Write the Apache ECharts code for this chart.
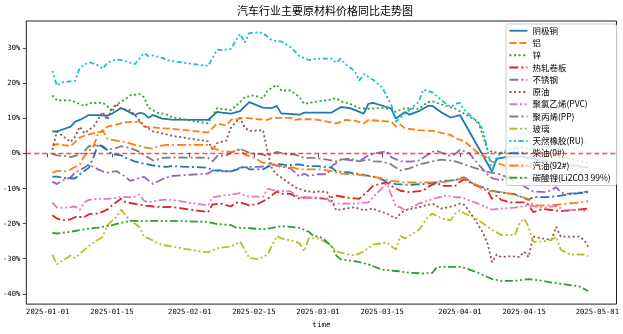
<!DOCTYPE html>
<html>
<head>
<meta charset="utf-8">
<script src="https://cdn.jsdelivr.net/npm/echarts@6/dist/echarts.min.js"></script>
<style>
  html, body { margin: 0; padding: 0; background: #fff; }
  #chart { width: 623px; height: 334px; }
</style>
</head>
<body>
<div id="chart"></div>
<script>
// Year-on-year change (%) of key automotive raw materials, 2025
const seriesNames = ['阴极铜', '铝', '锌', '热轧卷板', '不锈钢', '原油', '聚氯乙烯(PVC)', '聚丙烯(PP)', '玻璃', '天然橡胶(RU)', '柴油(0#)', '汽油(92#)', '碳酸锂(Li2CO3 99%)'];

const copper = [['01-02',6.3],['01-03',6.3],['01-06',7.7],['01-07',9.1],['01-08',9.6],['01-10',11.0],['01-12',11.0],['01-14',10.8],['01-15',11.4],['01-17',13.0],['01-18',12.4],['01-20',11.0],['01-21',11.6],['01-22',11.4],['01-23',10.2],['01-24',11.0],['01-26',10.0],['01-28',9.7],['02-05',9.6],['02-07',11.9],['02-08',11.7],['02-10',11.4],['02-12',12.1],['02-14',14.7],['02-16',13.6],['02-17',13.1],['02-19',13.0],['02-20',13.6],['02-21',11.4],['02-22',11.4],['02-25',11.1],['02-26',11.7],['03-02',11.7],['03-04',11.7],['03-06',13.3],['03-08',13.0],['03-11',11.4],['03-12',14.2],['03-13',14.5],['03-16',13.3],['03-17',12.8],['03-18',10.0],['03-20',11.9],['03-21',11.1],['03-23',12.1],['03-25',13.6],['03-26',13.6],['03-28',11.7],['03-30',10.3],['04-01',11.0],['04-08',-5.1],['04-09',-1.5],['04-11',-1.0],['04-14',-0.8],['04-17',-1.5],['04-21',-2.5],['04-24',-3.0],['04-29',-4.0]];

const aluminium = [['01-02',2.3],['01-03',2.7],['01-06',2.1],['01-08',4.6],['01-10',5.5],['01-12',6.1],['01-13',6.3],['01-14',7.7],['01-17',8.6],['01-18',8.9],['01-20',9.1],['01-21',9.1],['01-22',7.7],['01-24',7.5],['01-26',7.2],['01-28',7.1],['02-05',6.0],['02-07',8.6],['02-09',8.0],['02-10',9.6],['02-12',10.0],['02-13',10.2],['02-16',9.8],['02-18',9.6],['02-19',10.2],['02-21',10.2],['02-23',10.2],['02-24',9.6],['02-25',9.8],['02-27',9.8],['03-01',9.6],['03-03',9.1],['03-05',8.6],['03-07',9.6],['03-09',9.4],['03-11',8.6],['03-12',9.6],['03-15',9.3],['03-17',9.1],['03-18',7.7],['03-19',8.3],['03-20',7.2],['03-23',6.7],['03-26',6.5],['03-30',5.3],['03-31',4.4],['04-02',3.5],['04-03',2.3],['04-05',0.2],['04-07',-1.2],['04-08',-2.3],['04-10',-3.1],['04-11',-3.6],['04-15',-3.8],['04-18',-3.5],['04-22',-4.0],['04-25',-3.7],['04-29',-3.8]];

const zinc = [['01-02',16.6],['01-03',15.2],['01-04',15.2],['01-06',15.2],['01-07',14.7],['01-09',13.6],['01-10',14.4],['01-13',14.5],['01-14',13.6],['01-15',11.9],['01-16',14.0],['01-18',15.6],['01-19',16.6],['01-21',17.0],['01-22',16.1],['01-23',13.0],['01-24',12.4],['01-25',11.7],['01-27',11.1],['01-28',10.4],['02-05',8.6],['02-07',13.0],['02-10',12.4],['02-12',14.7],['02-13',16.1],['02-15',16.6],['02-17',15.8],['02-18',18.0],['02-20',19.6],['02-21',18.0],['02-23',18.0],['02-25',16.1],['02-26',14.2],['02-28',14.7],['03-01',14.9],['03-03',15.2],['03-05',15.8],['03-06',14.9],['03-08',14.2],['03-10',13.0],['03-12',12.8],['03-15',13.0],['03-17',12.8],['03-18',11.9],['03-20',13.0],['03-23',12.8],['03-25',14.7],['03-26',14.9],['03-29',13.6],['03-31',12.8],['04-03',10.6],['04-05',9.1],['04-07',1.1],['04-08',0.5],['04-10',0.2],['04-14',0.6],['04-17',0.0],['04-22',-0.8],['04-25',-1.5],['04-29',-2.6]];

const hotRolledCoil = [['01-02',-17.6],['01-03',-18.5],['01-04',-19.0],['01-06',-18.8],['01-07',-18.1],['01-09',-18.1],['01-10',-17.3],['01-12',-17.1],['01-14',-16.0],['01-15',-14.8],['01-17',-12.9],['01-18',-13.9],['01-19',-14.1],['01-22',-14.8],['01-24',-15.1],['01-27',-15.3],['01-28',-15.2],['02-05',-16.7],['02-06',-14.5],['02-08',-14.3],['02-10',-15.1],['02-11',-14.1],['02-12',-13.9],['02-14',-14.8],['02-16',-14.3],['02-18',-12.9],['02-20',-10.8],['02-21',-11.5],['02-23',-11.5],['02-25',-12.9],['02-26',-12.5],['02-28',-12.7],['03-03',-12.9],['03-05',-12.0],['03-07',-12.5],['03-10',-12.9],['03-12',-10.6],['03-13',-9.2],['03-16',-8.2],['03-17',-9.2],['03-19',-10.6],['03-21',-11.0],['03-24',-10.6],['03-25',-9.5],['03-27',-8.2],['03-28',-9.2],['03-31',-9.2],['04-01',-8.0],['04-02',-7.4],['04-03',-8.1],['04-05',-9.4],['04-07',-10.6],['04-08',-12.9],['04-09',-12.0],['04-10',-13.2],['04-12',-13.9],['04-15',-13.9],['04-16',-14.6],['04-17',-16.7],['04-19',-15.8],['04-21',-16.1],['04-23',-16.4],['04-26',-16.1],['04-29',-15.7]];

const stainless = [['01-02',-8.0],['01-03',-8.7],['01-04',-7.8],['01-06',-6.8],['01-07',-5.4],['01-09',-4.0],['01-10',-3.1],['01-12',-4.5],['01-13',-5.1],['01-14',-5.4],['01-16',-5.0],['01-18',-6.6],['01-19',-7.8],['01-22',-6.6],['01-24',-8.7],['01-26',-7.3],['01-28',-6.4],['02-05',-5.7],['02-06',-4.8],['02-08',-5.1],['02-10',-5.1],['02-12',-4.0],['02-14',-3.8],['02-16',-3.8],['02-18',-3.6],['02-19',-3.1],['02-21',-3.8],['02-23',-4.2],['02-25',-6.6],['02-26',-5.7],['02-27',-6.4],['03-01',-5.9],['03-03',-5.9],['03-04',-3.6],['03-06',-1.7],['03-07',-1.7],['03-10',-2.2],['03-12',-0.5],['03-14',0.2],['03-16',0.7],['03-17',-1.0],['03-19',-2.2],['03-21',-2.3],['03-23',-2.0],['03-26',0.5],['03-27',0.8],['03-28',0.2],['03-30',-0.7],['03-31',-0.1],['04-01',1.1],['04-03',0.2],['04-05',-3.1],['04-07',-5.9],['04-08',-7.0],['04-10',-7.7],['04-11',-6.8],['04-12',-7.2],['04-14',-8.5],['04-16',-10.1],['04-17',-10.8],['04-20',-11.0],['04-22',-9.6],['04-23',-11.0],['04-24',-11.5],['04-26',-11.3],['04-29',-10.8]];

const crudeOil = [['01-02',1.1],['01-03',6.3],['01-04',5.3],['01-06',3.3],['01-07',4.9],['01-08',7.7],['01-09',5.8],['01-11',7.7],['01-13',11.9],['01-14',9.6],['01-15',12.8],['01-16',14.2],['01-17',12.8],['01-19',12.4],['01-20',11.0],['01-22',8.0],['01-24',6.3],['01-26',5.8],['01-28',5.1],['02-05',3.5],['02-06',1.1],['02-07',3.0],['02-09',3.7],['02-10',7.4],['02-12',10.3],['02-13',7.4],['02-14',6.5],['02-17',6.7],['02-18',0.5],['02-19',-4.5],['02-20',-5.9],['02-22',-7.8],['02-24',-9.6],['02-26',-10.6],['02-28',-11.0],['03-01',-10.8],['03-03',-11.0],['03-04',-13.4],['03-05',-16.2],['03-07',-15.7],['03-09',-15.3],['03-11',-16.2],['03-13',-15.7],['03-15',-16.7],['03-16',-17.1],['03-18',-18.5],['03-19',-17.1],['03-20',-16.2],['03-23',-15.3],['03-26',-14.3],['03-28',-15.7],['03-31',-14.8],['04-01',-14.3],['04-02',-14.6],['04-04',-18.3],['04-06',-22.5],['04-07',-25.6],['04-08',-31.0],['04-09',-28.8],['04-10',-29.5],['04-12',-29.3],['04-14',-29.5],['04-15',-28.0],['04-16',-29.5],['04-17',-23.7],['04-19',-24.2],['04-21',-24.6],['04-22',-20.9],['04-23',-23.7],['04-27',-23.7],['04-28',-24.5],['04-29',-26.5]];

const pvc = [['01-02',-13.9],['01-03',-15.4],['01-05',-15.4],['01-06',-15.3],['01-07',-15.1],['01-08',-16.0],['01-09',-13.9],['01-10',-13.2],['01-12',-12.9],['01-14',-12.9],['01-16',-12.6],['01-17',-12.3],['01-19',-12.5],['01-20',-12.3],['01-21',-11.7],['01-22',-13.4],['01-23',-13.9],['01-25',-13.4],['01-26',-13.2],['01-28',-13.2],['02-05',-14.8],['02-06',-12.5],['02-08',-12.0],['02-10',-11.7],['02-12',-11.3],['02-13',-12.0],['02-14',-12.3],['02-17',-12.3],['02-18',-10.1],['02-20',-10.6],['02-23',-10.8],['02-25',-12.5],['02-27',-12.5],['03-01',-12.5],['03-03',-12.9],['03-04',-14.2],['03-06',-14.3],['03-09',-14.3],['03-12',-13.9],['03-13',-12.5],['03-16',-8.5],['03-18',-15.1],['03-19',-15.3],['03-20',-16.2],['03-23',-14.3],['03-25',-13.4],['03-27',-12.6],['03-29',-12.0],['03-31',-12.5],['04-01',-12.4],['04-03',-13.3],['04-05',-14.3],['04-08',-16.0],['04-10',-15.7],['04-13',-15.4],['04-16',-14.8],['04-19',-15.4],['04-22',-15.0],['04-24',-16.2],['04-26',-16.0],['04-29',-16.4]];

const polypropylene = [['01-02',-0.1],['01-03',-0.5],['01-05',-0.7],['01-06',-1.0],['01-08',-0.3],['01-09',0.7],['01-10',2.1],['01-12',2.5],['01-13',1.8],['01-14',1.1],['01-16',1.6],['01-17',2.1],['01-19',1.6],['01-21',0.5],['01-22',-0.3],['01-24',-2.0],['01-25',-1.7],['01-26',-1.2],['01-28',-1.1],['02-05',-1.2],['02-06',-2.2],['02-07',-0.7],['02-09',-0.5],['02-10',0.2],['02-12',1.4],['02-13',0.8],['02-14',0.2],['02-17',-0.3],['02-18',-0.7],['02-20',0.5],['02-22',-0.1],['02-24',-0.3],['02-26',-1.2],['02-28',-1.2],['03-03',-1.7],['03-05',-2.2],['03-06',-1.7],['03-08',-1.4],['03-10',-2.2],['03-12',-1.7],['03-13',-2.2],['03-15',-2.3],['03-17',-3.1],['03-19',-4.8],['03-21',-4.2],['03-23',-3.1],['03-26',-2.2],['03-28',-1.7],['03-30',-2.0],['03-31',-2.2],['04-02',-3.1],['04-04',-4.0],['04-07',-5.2],['04-10',-6.0],['04-11',-6.6],['04-15',-7.0],['04-19',-7.3],['04-23',-7.0],['04-26',-7.5],['04-29',-7.8]];

const glass = [['01-02',-28.8],['01-03',-31.6],['01-04',-30.7],['01-06',-29.1],['01-07',-29.8],['01-08',-28.6],['01-10',-26.3],['01-12',-24.6],['01-13',-23.7],['01-14',-20.4],['01-16',-18.1],['01-17',-16.0],['01-18',-17.6],['01-19',-19.0],['01-21',-20.9],['01-22',-23.7],['01-24',-24.8],['01-25',-25.6],['01-27',-26.3],['01-28',-26.5],['02-01',-27.4],['02-05',-28.2],['02-07',-27.0],['02-10',-26.5],['02-12',-25.1],['02-13',-27.4],['02-14',-29.8],['02-16',-30.1],['02-18',-28.8],['02-20',-23.5],['02-21',-24.2],['02-24',-25.1],['02-25',-25.6],['02-26',-27.9],['02-27',-24.2],['03-01',-24.2],['03-02',-24.8],['03-03',-25.5],['03-04',-26.5],['03-05',-27.9],['03-07',-28.6],['03-09',-29.1],['03-11',-27.9],['03-13',-26.0],['03-16',-25.4],['03-18',-27.4],['03-19',-23.5],['03-20',-24.2],['03-23',-21.8],['03-25',-18.1],['03-26',-17.1],['03-28',-18.5],['03-30',-19.0],['03-31',-17.1],['04-01',-16.2],['04-02',-17.1],['04-04',-18.1],['04-06',-19.9],['04-08',-21.8],['04-10',-23.2],['04-13',-23.2],['04-14',-19.9],['04-15',-18.5],['04-16',-20.9],['04-17',-25.1],['04-19',-25.1],['04-21',-24.6],['04-22',-23.7],['04-23',-27.4],['04-25',-28.8],['04-28',-28.8],['04-29',-29.3]];

const naturalRubber = [['01-02',23.6],['01-03',19.4],['01-04',20.3],['01-07',20.8],['01-08',24.5],['01-10',26.1],['01-12',25.2],['01-13',24.2],['01-14',25.9],['01-16',26.9],['01-18',26.4],['01-20',25.5],['01-22',28.7],['01-23',27.8],['01-24',28.0],['01-26',27.3],['01-27',26.7],['01-28',26.4],['02-05',25.0],['02-07',29.7],['02-08',29.5],['02-10',29.9],['02-12',34.2],['02-13',31.7],['02-14',34.4],['02-16',34.6],['02-17',34.4],['02-19',32.3],['02-21',32.0],['02-23',30.4],['02-25',27.8],['02-27',26.7],['03-01',27.1],['03-04',27.1],['03-05',25.9],['03-06',27.1],['03-07',25.5],['03-09',23.6],['03-10',20.8],['03-11',22.7],['03-13',21.1],['03-15',18.9],['03-17',14.0],['03-18',9.1],['03-20',11.4],['03-23',14.7],['03-24',18.3],['03-26',17.5],['03-28',15.2],['03-30',13.3],['03-31',14.2],['04-01',14.5],['04-02',12.4],['04-04',10.0],['04-06',7.0],['04-07',1.1],['04-08',-5.2],['04-09',-1.0],['04-10',0.2],['04-11',0.8],['04-14',1.8],['04-17',1.2],['04-20',2.0],['04-23',2.5],['04-26',3.0],['04-29',3.3]];

const diesel = [['01-02',-6.6],['01-03',-6.6],['01-05',-7.0],['01-07',-7.1],['01-08',-5.9],['01-10',-4.0],['01-11',-1.0],['01-12',2.7],['01-13',2.1],['01-15',-0.1],['01-17',-0.5],['01-18',-1.2],['01-20',-2.2],['01-22',-2.9],['01-25',-3.6],['01-27',-3.8],['01-28',-3.6],['02-05',-4.0],['02-06',-4.8],['02-08',-4.8],['02-10',-5.1],['02-12',-4.2],['02-13',-3.6],['02-14',-4.5],['02-17',-4.5],['02-18',-3.8],['02-20',-2.9],['02-22',-3.3],['02-25',-3.1],['02-27',-3.6],['03-01',-3.6],['03-04',-4.0],['03-05',-5.1],['03-08',-5.4],['03-11',-6.1],['03-14',-6.8],['03-16',-8.0],['03-18',-8.7],['03-21',-8.9],['03-24',-8.7],['03-26',-8.4],['03-28',-7.8],['03-31',-7.6],['04-01',-7.0],['04-02',-6.8],['04-04',-8.7],['04-06',-9.6],['04-08',-10.6],['04-10',-11.1],['04-13',-11.6],['04-16',-13.2],['04-17',-12.4],['04-20',-12.4],['04-22',-12.2],['04-24',-11.8],['04-27',-11.3],['04-29',-11.0]];

const gasoline = [['01-02',-5.4],['01-03',-5.0],['01-05',-5.0],['01-06',-4.5],['01-08',-3.1],['01-09',-0.7],['01-11',2.1],['01-12',5.8],['01-13',6.7],['01-14',4.2],['01-16',3.7],['01-18',3.3],['01-20',2.5],['01-22',1.8],['01-24',1.4],['01-25',2.1],['01-27',2.5],['01-28',2.5],['02-05',2.5],['02-06',1.6],['02-08',0.7],['02-10',0.5],['02-12',1.1],['02-13',-0.3],['02-15',-1.2],['02-17',-2.6],['02-19',-3.1],['02-21',-3.6],['02-23',-3.8],['02-25',-4.5],['02-27',-4.5],['03-01',-4.5],['03-02',-4.5],['03-04',-5.1],['03-06',-5.7],['03-09',-5.9],['03-12',-6.4],['03-14',-6.8],['03-17',-7.8],['03-20',-8.2],['03-23',-8.2],['03-26',-8.2],['03-28',-8.2],['03-30',-7.8],['04-01',-7.3],['04-02',-7.0],['04-05',-9.2],['04-07',-10.6],['04-10',-11.0],['04-12',-11.5],['04-16',-12.9],['04-17',-14.8],['04-20',-14.8],['04-22',-14.6],['04-26',-14.1],['04-29',-13.6]];

const lithiumCarbonate = [['01-02',-22.6],['01-03',-22.8],['01-06',-22.3],['01-09',-21.6],['01-12',-21.1],['01-14',-20.7],['01-17',-19.8],['01-19',-19.2],['01-22',-19.2],['01-25',-19.2],['01-28',-19.2],['02-05',-19.5],['02-07',-20.1],['02-10',-20.4],['02-11',-21.1],['02-14',-21.3],['02-17',-21.6],['02-19',-21.2],['02-21',-20.7],['02-23',-20.9],['02-25',-21.2],['02-27',-22.3],['02-28',-23.5],['03-01',-23.7],['03-02',-24.1],['03-04',-26.5],['03-05',-29.1],['03-06',-30.2],['03-09',-30.7],['03-12',-31.6],['03-15',-33.1],['03-18',-33.5],['03-21',-34.0],['03-24',-34.2],['03-26',-34.0],['03-27',-32.3],['03-30',-32.3],['04-01',-32.3],['04-02',-32.6],['04-05',-34.0],['04-08',-35.8],['04-10',-36.3],['04-13',-36.3],['04-16',-35.8],['04-19',-36.3],['04-21',-36.8],['04-24',-37.3],['04-27',-37.9],['04-29',-39.2]];

const xTickDates = ['01-01', '01-15', '02-01', '02-15', '03-01', '03-15', '04-01', '04-15', '05-01'];
const yTickValues = [-40, -30, -20, -10, 0, 10, 20, 30];

const YEAR = 2025;
const DAY = 86400000;
const toTime = md => {
  const [m, d] = md.split('-').map(Number);
  return new Date(YEAR, m - 1, d).getTime();
};
const pad = n => (n < 10 ? '0' : '') + n;
const fmtDate = t => {
  const d = new Date(t);
  return d.getFullYear() + '-' + pad(d.getMonth() + 1) + '-' + pad(d.getDate());
};

const seriesData = [copper, aluminium, zinc, hotRolledCoil, stainless, crudeOil, pvc, polypropylene, glass, naturalRubber, diesel, gasoline, lithiumCarbonate];

// tab10 palette cycled, with a line pattern per series
const DASHED = [7, 3];
const DOTTED = [2, 2.6];
const DASHDOT = [9, 3, 2, 3];
const DASHDOTDOT = [8, 2.6, 2, 2.6, 2, 2.6];
const looks = [
  { color: '#1f77b4', type: 'solid' },
  { color: '#ff7f0e', type: DASHED },
  { color: '#2ca02c', type: DOTTED },
  { color: '#d62728', type: DASHDOT },
  { color: '#9467bd', type: DASHDOT },
  { color: '#8c564b', type: DOTTED },
  { color: '#e377c2', type: DASHDOTDOT },
  { color: '#7f7f7f', type: DASHDOT },
  { color: '#bcbd22', type: DASHDOTDOT },
  { color: '#17becf', type: [2, 2.6, 2, 2.6, 5, 2.6] },
  { color: '#1f77b4', type: DASHDOT },
  { color: '#ff7f0e', type: DASHDOT },
  { color: '#2ca02c', type: DASHDOTDOT }
];

const series = seriesNames.map((name, i) => {
  const s = {
    name,
    type: 'line',
    symbol: 'none',
    showSymbol: false,
    smooth: false,
    color: looks[i].color,
    lineStyle: { color: looks[i].color, width: 1.8, type: looks[i].type, cap: 'butt' },
    data: seriesData[i].map(([md, v]) => [toTime(md), v])
  };
  if (i === seriesNames.length - 1) {
    s.markLine = {
      silent: true,
      symbol: 'none',
      label: { show: false },
      lineStyle: { color: 'rgba(255,0,0,0.7)', width: 1.4, type: [5, 3] },
      data: [{ yAxis: 0 }]
    };
  }
  return s;
});

const jan1 = toTime('01-01');
const tickFont = { fontFamily: 'DejaVu Sans Mono', fontSize: 7.2, color: '#000' };

const chart = echarts.init(document.getElementById('chart'), null, { renderer: 'canvas' });
chart.setOption({
  animation: false,
  backgroundColor: '#fff',
  title: {
    text: '汽车行业主要原材料价格同比走势图',
    left: 232,
    top: 0.5,
    padding: 5,
    textStyle: { fontFamily: 'Noto Sans CJK SC', fontSize: 11, fontWeight: 'normal', color: '#000' }
  },
  legend: {
    orient: 'vertical',
    left: 506,
    top: 24,
    padding: [2.5, 6, 3.5, 2.5],
    itemWidth: 18,
    itemHeight: 9,
    itemGap: 3.75,
    backgroundColor: 'rgba(255,255,255,0.8)',
    borderColor: '#cccccc',
    borderWidth: 1,
    borderRadius: 2.5,
    itemStyle: { opacity: 0 },
    lineStyle: { width: 1.8 },
    textStyle: { fontFamily: 'Noto Sans CJK SC', fontSize: 8.5, color: '#000' },
    data: seriesNames
  },
  grid: {
    left: 24, right: 6.5, top: 21, bottom: 25.5,
    show: true, borderColor: '#222', borderWidth: 1, backgroundColor: 'transparent'
  },
  xAxis: {
    type: 'value',
    min: jan1 - 4.68 * DAY,
    max: jan1 + 124.18 * DAY,
    name: 'time',
    nameLocation: 'middle',
    nameGap: 15,
    nameTextStyle: { fontFamily: 'DejaVu Sans Mono', fontSize: 7.5, color: '#000' },
    axisLine: { show: false },
    axisTick: { show: true, length: 3.5, lineStyle: { color: '#222', width: 0.8 }, customValues: xTickDates.map(toTime) },
    axisLabel: Object.assign({ margin: 5, formatter: v => fmtDate(v), customValues: xTickDates.map(toTime) }, tickFont),
    splitLine: { show: false }
  },
  yAxis: {
    type: 'value',
    min: -42.95,
    max: 37.84,
    axisLine: { show: false },
    axisTick: { show: true, length: 3.5, lineStyle: { color: '#222', width: 0.8 }, customValues: yTickValues },
    axisLabel: Object.assign({ margin: 6, formatter: v => v + '%', customValues: yTickValues }, tickFont),
    splitLine: { show: false }
  },
  series
});
</script>
</body>
</html>
